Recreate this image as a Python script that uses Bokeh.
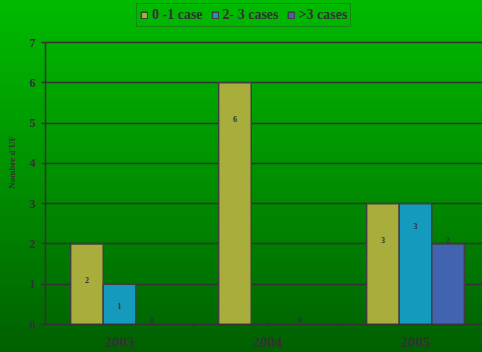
from bokeh.plotting import figure
from bokeh.models import ColumnDataSource, Range1d, FixedTicker, Legend, LegendItem, InlineStyleSheet
from bokeh.core.properties import value
from bokeh.embed import file_html
from bokeh.resources import INLINE

# ---- data ----
years = ["2003", "2004", "2005"]
series = ["0 -1 case", "2- 3 cases", ">3 cases"]
v_case_0_1 = [2, 6, 3]
v_cases_2_3 = [1, 0, 3]
v_cases_gt3 = [0, 0, 2]
y_ticks = [0, 1, 2, 3, 4, 5, 6, 7]

# ---- styles ----
colors = ["#a9ad3b", "#139abd", "#4263b0"]
dodge = [-0.22, 0.0, 0.22]
label_shift = [-0.9, -0.55, 0.1]
SERIF = "Liberation Serif"
DARK = "#333333"

y_max = y_ticks[-1]
# frame spans the full height above the axis; room above 7 holds the legend
p = figure(width=482, height=352, output_backend="svg", toolbar_location=None,
           x_range=Range1d(0, 437 / 148), y_range=Range1d(0, y_max * 324 / 282),
           min_border_left=45, min_border_right=0, min_border_top=0, min_border_bottom=28)

p.background_fill_alpha = 0
p.border_fill_alpha = 0
p.outline_line_color = None
p.stylesheets = [InlineStyleSheet(css=":host { background: linear-gradient(to bottom, #00bb00 0%, #009000 50%, #006000 100%); }")]

all_vals = [v_case_0_1, v_cases_2_3, v_cases_gt3]
items = []
for k, vals in enumerate(all_vals):
    xs = [i + 0.5 + dodge[k] for i in range(len(years))]
    src = ColumnDataSource(dict(
        x=xs, top=vals,
        ly=[max(v + label_shift[k], 0.0) for v in vals],
        txt=[str(v) for v in vals]))
    r = p.vbar(x="x", top="top", width=0.22, source=src, fill_color=colors[k],
               line_color="#404040", line_width=1.5)
    p.text(x="x", y="ly", text="txt", source=src, text_align="center",
           text_baseline="middle", text_font=value(SERIF), text_font_style="bold",
           text_font_size="8px", text_color=DARK)
    items.append(LegendItem(label=series[k], renderers=[r]))

legend = Legend(items=items, orientation="horizontal", location=(91, 297),
                label_text_font=SERIF, label_text_font_style="bold",
                label_text_font_size="14px", label_text_color=DARK,
                glyph_width=8, glyph_height=8, label_standoff=4, spacing=8,
                padding=3, margin=0, label_height=12,
                border_line_color="#2a5a2a", border_line_width=1.5,
                background_fill_alpha=0)
p.add_layout(legend, "center")

# x axis
p.xaxis.ticker = FixedTicker(ticks=[i + 0.5 for i in range(len(years))],
                             minor_ticks=[i for i in range(1, len(years))])
p.xaxis.major_label_overrides = {i + 0.5: y for i, y in enumerate(years)}
p.xaxis.major_tick_out = 0
p.xaxis.major_tick_in = 0
p.xaxis.minor_tick_out = 4
p.xaxis.minor_tick_in = 0
p.xaxis.major_label_text_font = SERIF
p.xaxis.major_label_text_font_style = "bold"
p.xaxis.major_label_text_font_size = "15px"
p.xaxis.major_label_text_color = DARK
p.xaxis.major_label_standoff = 8
p.xgrid.visible = False

# y axis
p.yaxis.ticker = FixedTicker(ticks=y_ticks, minor_ticks=[])
p.yaxis.bounds = (0, y_max)
p.yaxis.major_tick_out = 4
p.yaxis.major_tick_in = 0
p.yaxis.major_label_text_font = SERIF
p.yaxis.major_label_text_font_style = "bold"
p.yaxis.major_label_text_font_size = "12px"
p.yaxis.major_label_text_color = DARK
p.yaxis.major_label_standoff = 6
p.yaxis.axis_label = "Nombre d'UF"
p.yaxis.axis_label_text_font = SERIF
p.yaxis.axis_label_text_font_style = "bold"
p.yaxis.axis_label_text_font_size = "9px"
p.yaxis.axis_label_text_color = DARK
p.yaxis.axis_label_standoff = 10
p.ygrid.ticker = FixedTicker(ticks=y_ticks)
p.ygrid.grid_line_color = DARK
p.ygrid.grid_line_width = 1.5

for ax in (p.xaxis, p.yaxis):
    ax.axis_line_color = DARK
    ax.axis_line_width = 1.5
    ax.major_tick_line_color = DARK
    ax.minor_tick_line_color = DARK
    ax.major_tick_line_width = 1.5

open("out.html", "w").write(file_html(p, INLINE))
